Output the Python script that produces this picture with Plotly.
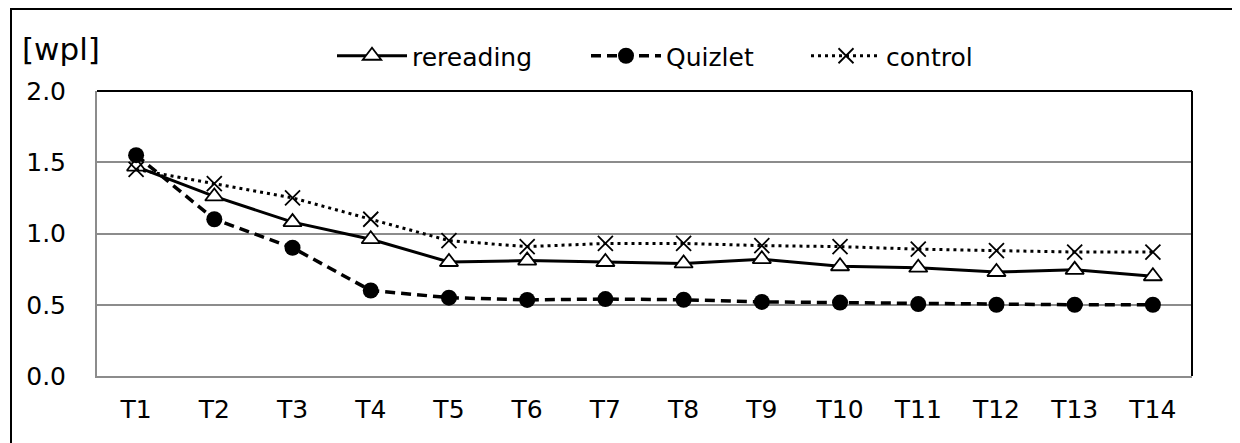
import plotly.graph_objects as go

categories = ["T1", "T2", "T3", "T4", "T5", "T6", "T7", "T8", "T9", "T10", "T11", "T12", "T13", "T14"]
rereading = [1.47, 1.26, 1.08, 0.96, 0.80, 0.81, 0.80, 0.79, 0.82, 0.77, 0.76, 0.73, 0.745, 0.70]
quizlet = [1.55, 1.10, 0.90, 0.60, 0.55, 0.534, 0.54, 0.535, 0.52, 0.515, 0.505, 0.50, 0.50, 0.50]
control = [1.45, 1.35, 1.25, 1.10, 0.95, 0.908, 0.93, 0.93, 0.915, 0.908, 0.89, 0.88, 0.87, 0.87]
y_ticks = [0.0, 0.5, 1.0, 1.5, 2.0]

FONT = "DejaVu Sans"
FS = 25

OFF = 8  # page body margin
W, H = 1232, 435
L, T = 97 - OFF, 91 - OFF
R = W - (1192 - OFF)
B = H - (376 - OFF)
pw, ph = W - L - R, H - T - B

def px(x):
    return (x - OFF - L) / pw

def py(y):
    return (H - B - (y - OFF)) / ph

fig = go.Figure()
fig.add_trace(go.Scatter(
    x=categories, y=rereading, name="rereading", mode="lines+markers", legend="legend",
    line=dict(color="black", width=3),
    marker=dict(symbol="triangle-up", size=16, color="white", line=dict(color="black", width=1.8)),
))
fig.add_trace(go.Scatter(
    x=categories, y=quizlet, name="Quizlet", mode="lines+markers", legend="legend2",
    line=dict(color="black", width=3.5, dash="10px,6px"),
    marker=dict(symbol="circle", size=16, color="black"),
))
fig.add_trace(go.Scatter(
    x=categories, y=control, name="control", mode="lines+markers", legend="legend3",
    line=dict(color="black", width=3, dash="3px,4px"),
    marker=dict(symbol="x-thin", size=15, color="black", line=dict(color="black", width=1.8)),
))

def leg(xs):
    return dict(
        orientation="h", x=px(xs), xanchor="left", y=py(56), yanchor="middle",
        font=dict(family=FONT, size=FS, color="black"),
        itemwidth=70, bgcolor="rgba(0,0,0,0)", borderwidth=0,
    )

fig.update_layout(
    width=W, height=H,
    margin=dict(l=L, r=R, t=T, b=B, autoexpand=False),
    paper_bgcolor="white", plot_bgcolor="white",
    font=dict(family=FONT, size=FS, color="black"),
    showlegend=True,
    legend=leg(332),
    legend2=leg(586),
    legend3=leg(806),
    xaxis=dict(
        type="category", range=[-0.5, len(categories) - 0.5],
        showgrid=False, showline=True, linecolor="#8c8c8c", linewidth=2,
        ticks="", ticklabelstandoff=10,
        tickfont=dict(family=FONT, size=FS, color="black"),
    ),
    yaxis=dict(
        range=[0, 2.0], tickvals=y_ticks, tickformat=".1f",
        showgrid=True, gridcolor="#8c8c8c", gridwidth=2,
        showline=True, linecolor="#8c8c8c", linewidth=2,
        zeroline=False, ticks="outside", ticklen=24, tickcolor="rgba(0,0,0,0)",
        tickfont=dict(family=FONT, size=FS, color="black"),
    ),
    shapes=[
        dict(type="rect", xref="paper", yref="paper", x0=px(11), x1=px(1237), y0=py(9), y1=py(470),
             line=dict(color="black", width=2), fillcolor="rgba(0,0,0,0)", layer="below"),
        dict(type="line", xref="paper", yref="paper", x0=0, x1=1, y0=1, y1=1,
             line=dict(color="black", width=2), layer="above"),
        dict(type="line", xref="paper", yref="paper", x0=1, x1=1, y0=0, y1=1,
             line=dict(color="black", width=2), layer="above"),
    ],
    annotations=[
        dict(text="[wpl]", xref="paper", yref="paper", x=px(20), y=py(49), xanchor="left",
             yanchor="middle", showarrow=False, font=dict(family=FONT, size=31, color="black")),
    ],
)

fig.write_html("out.html")
